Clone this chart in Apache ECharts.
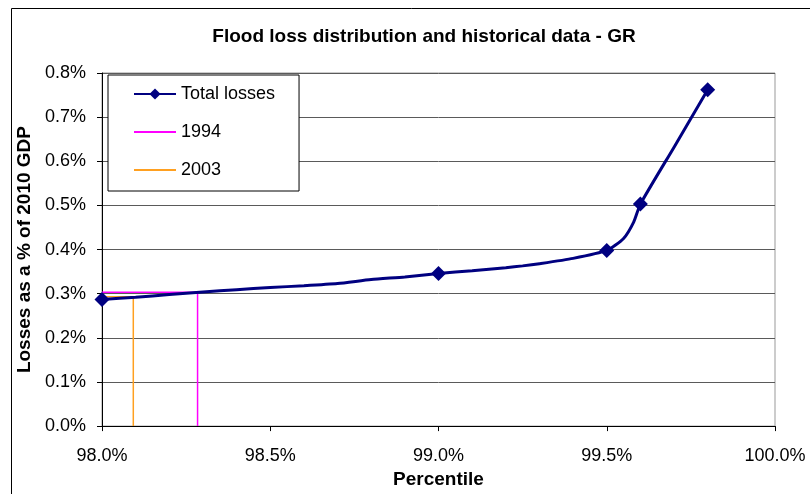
<!DOCTYPE html>
<html>
<head>
<meta charset="utf-8">
<script src="https://cdn.jsdelivr.net/npm/echarts@6/dist/echarts.min.js"></script>
<style>
html,body{margin:0;padding:0;background:#fff;}
#chart{width:810px;height:494px;}
</style>
</head>
<body>
<div id="chart"></div>
<script>
// ---- data ----
var titleText = 'Flood loss distribution and historical data - GR';
var xAxisTitle = 'Percentile';
var yAxisTitle = 'Losses as a % of 2010 GDP';
var xTicks = [98.0, 98.5, 99.0, 99.5, 100.0];
var yTicks = [0.0, 0.1, 0.2, 0.3, 0.4, 0.5, 0.6, 0.7, 0.8];

var totalPercentile = [98.0, 98.1, 98.2, 98.3, 98.4, 98.5, 98.6, 98.7, 98.8, 98.9, 99.0, 99.1, 99.2, 99.25, 99.3, 99.4, 99.5, 99.55, 99.58, 99.6, 99.7, 99.8];
var totalLoss      = [0.287, 0.292, 0.298, 0.304, 0.309, 0.314, 0.318, 0.323, 0.332, 0.338, 0.346, 0.352, 0.359, 0.363, 0.368, 0.380, 0.398, 0.425, 0.462, 0.503, 0.632, 0.762];
var markedPercentiles = [98.0, 99.0, 99.5, 99.6, 99.8];

var p1994 = [98.0, 98.284, 98.284];
var v1994 = [0.303, 0.303, 0.0];
var p2003 = [98.0, 98.093, 98.093];
var v2003 = [0.293, 0.293, 0.0];

// ---- build ----
function pairs(xs, ys) { return xs.map(function (x, i) { return [x, ys[i]]; }); }
var totalData = totalPercentile.map(function (x, i) {
  var item = { value: [x, totalLoss[i]] };
  if (markedPercentiles.indexOf(x) < 0) item.symbol = 'none';
  return item;
});

var FONT = 'Liberation Sans, Arial, sans-serif';
var LINE_ICON = 'path://M0,0h42v2h-42z';
var chart = echarts.init(document.getElementById('chart'), null, { renderer: 'canvas' });
chart.setOption({
  animation: false,
  backgroundColor: '#ffffff',
  title: {
    text: titleText,
    left: 419,
    top: 22,
    textAlign: 'center',
    textStyle: { fontFamily: FONT, fontSize: 19, fontWeight: 'bold', color: '#000' }
  },
  graphic: [{
    type: 'rect',
    shape: { x: 11.5, y: 8.5, width: 900, height: 600 },
    style: { fill: 'none', stroke: '#000', lineWidth: 1 },
    silent: true,
    z: -10
  }],
  legend: {
    orient: 'vertical',
    left: 108,
    top: 75,
    padding: [10, 24, 12, 25],
    itemGap: 20,
    itemWidth: 42,
    itemHeight: 14,
    borderColor: '#000',
    borderWidth: 1,
    backgroundColor: '#fff',
    data: [
      { name: 'Total losses' },
      { name: '1994', icon: LINE_ICON },
      { name: '2003', icon: LINE_ICON }
    ],
    textStyle: { fontFamily: FONT, fontSize: 18, color: '#000' }
  },
  grid: {
    left: 102, right: 35, top: 73, bottom: 63,
    show: true, borderColor: '#999', borderWidth: 1, backgroundColor: 'transparent'
  },
  xAxis: {
    type: 'value',
    min: 98, max: 100, interval: 0.5,
    name: xAxisTitle,
    nameLocation: 'middle',
    nameGap: 43,
    nameTextStyle: { fontFamily: FONT, fontSize: 19, fontWeight: 'bold', color: '#000' },
    axisLine: { show: true, onZero: false, lineStyle: { color: '#000', width: 1 } },
    axisTick: { show: true, inside: false, length: 5, lineStyle: { color: '#000' } },
    axisLabel: {
      margin: 21, fontFamily: FONT, fontSize: 18, color: '#000',
      formatter: function (v) { return v.toFixed(1) + '%'; }
    },
    splitLine: { show: false }
  },
  yAxis: {
    type: 'value',
    min: 0, max: 0.8, interval: 0.1,
    name: yAxisTitle,
    nameLocation: 'middle',
    nameGap: 63,
    nameTextStyle: { fontFamily: FONT, fontSize: 19, fontWeight: 'bold', color: '#000' },
    axisLine: { show: true, lineStyle: { color: '#000', width: 1 } },
    axisTick: { show: true, inside: false, length: 5, lineStyle: { color: '#000' } },
    axisLabel: {
      margin: 16, fontFamily: FONT, fontSize: 18, color: '#000',
      formatter: function (v) { return v.toFixed(1) + '%'; }
    },
    splitLine: { show: true, lineStyle: { color: '#5a5a5a', width: 1 } }
  },
  series: [
    {
      name: '1994', type: 'line',
      data: pairs(p1994, v1994),
      symbol: 'none',
      lineStyle: { color: '#ff00ff', width: 1.5 },
      itemStyle: { color: '#ff00ff' },
      z: 2
    },
    {
      name: '2003', type: 'line',
      data: pairs(p2003, v2003),
      symbol: 'none',
      lineStyle: { color: '#ffa020', width: 1.5 },
      itemStyle: { color: '#ffa020' },
      z: 2
    },
    {
      name: 'Total losses', type: 'line',
      data: totalData,
      symbol: 'diamond',
      symbolSize: 15,
      showAllSymbol: true,
      smooth: 0.2,
      lineStyle: { color: '#000080', width: 3 },
      itemStyle: { color: '#000080' },
      z: 3
    }
  ]
});
</script>
</body>
</html>
